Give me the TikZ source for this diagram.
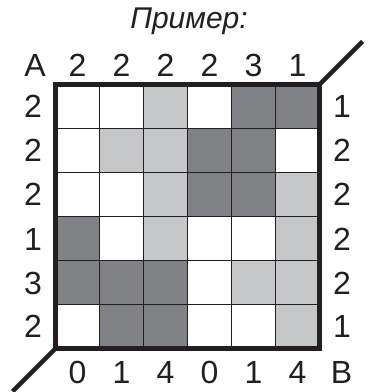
\documentclass[tikz,border=0pt]{standalone}
\usepackage{fontspec}
\setmainfont{Liberation Sans}
\definecolor{dk}{HTML}{808285}
\definecolor{lt}{HTML}{C6C7C9}
\definecolor{ln}{HTML}{231F20}
\begin{document}
\begin{tikzpicture}[x=1pt,y=1pt,
  lab/.style={font=\fontsize{32}{32}\selectfont, text=ln, inner sep=0pt, anchor=base},
  gridline/.style={draw=ln, line width=1.1pt},
  frame/.style={draw=ln, line width=5pt},
  diag/.style={draw=ln, line width=4.5pt}]
\useasboundingbox (0,0) rectangle (371,392);
\fill[white] (0,0) rectangle (371,392);
% cells
\foreach \c/\r in {3/1, 2/2, 3/2, 3/3, 6/3, 3/4, 6/4, 5/5, 6/5, 6/6}
  \fill[lt] ({55.5+44*(\c-1)},{307.5-44*\r}) rectangle ++(44,44);
\foreach \c/\r in {5/1, 6/1, 4/2, 5/2, 4/3, 5/3, 1/4, 1/5, 2/5, 3/5, 2/6, 3/6}
  \fill[dk] ({55.5+44*(\c-1)},{307.5-44*\r}) rectangle ++(44,44);
% grid lines
\foreach \i in {1,...,5} {
  \draw[gridline] ({55.5+44*\i},43.5) -- ({55.5+44*\i},307.5);
  \draw[gridline] (55.5,{43.5+44*\i}) -- (319.5,{43.5+44*\i});
}
% frame
\coordinate (bl) at (55.5,43.5);
\coordinate (tr) at (319.5,307.5);
\coordinate (trend) at (362.5,350.5);
\coordinate (blend) at (12.5,0.5);
\draw[frame] (bl) rectangle (tr);
\draw[diag] (tr) -- (trend);
\draw[diag] (bl) -- (blend);
% title
\node[font=\fontsize{30}{30}\selectfont\itshape, text=ln, inner sep=0pt, anchor=base] (title) at (189,363) {Пример:};
% top labels
\node[lab] (A) at (35,316) {A};
\foreach \v [count=\i] in {2,2,2,2,3,1}
  \node[lab] (top\i) at ({33.5+44*\i},316) {\v};
% bottom labels
\foreach \v [count=\i] in {0,1,4,0,1,4}
  \node[lab] (bot\i) at ({33.5+44*\i},9) {\v};
\node[lab] (B) at (341.5,9) {B};
% left labels
\foreach \v [count=\i] in {2,2,2,1,3,2}
  \node[lab] (left\i) at (33,{318-44*\i}) {\v};
% right labels
\foreach \v [count=\i] in {1,2,2,2,2,1}
  \node[lab] (right\i) at (342,{318-44*\i}) {\v};
\end{tikzpicture}
\end{document}
